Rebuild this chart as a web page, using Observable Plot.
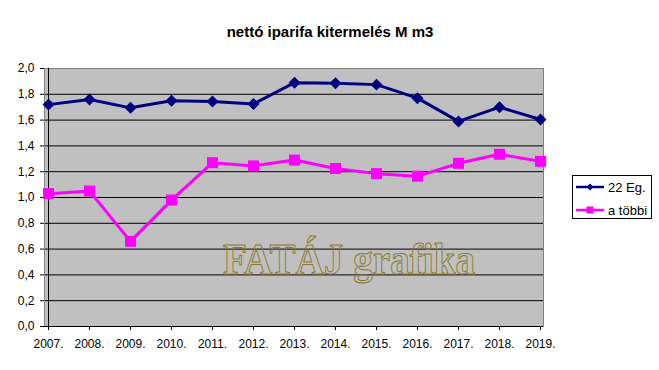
<!DOCTYPE html>
<html><head><meta charset="utf-8">
<script src="https://cdn.jsdelivr.net/npm/d3@7"></script>
<script src="https://cdn.jsdelivr.net/npm/@observablehq/plot@0.6"></script>
<style>
body{margin:0;background:#fff}
#wrap{position:relative;width:659px;height:370px;font-family:"Liberation Sans",Arial,sans-serif}
</style>
</head><body><div id="wrap"></div>
<script>
const title = "nettó iparifa kitermelés M m3";
const watermark = "FATÁJ grafika";
const years = ["2007.","2008.","2009.","2010.","2011.","2012.","2013.","2014.","2015.","2016.","2017.","2018.","2019."];
const seriesNames = ["22 Eg.","a többi"];
const seriesColors = ["#000080","#FF00FF"];
const eg22 = [1.72,1.76,1.695,1.75,1.745,1.725,1.89,1.885,1.875,1.77,1.59,1.70,1.605];
const tobbi = [1.03,1.05,0.66,0.98,1.27,1.245,1.29,1.225,1.185,1.165,1.265,1.335,1.28];
const yTicks = [0,0.2,0.4,0.6,0.8,1.0,1.2,1.4,1.6,1.8,2.0];

const data = years.flatMap((yr,i)=>[
  {year:yr, value:eg22[i], series:seriesNames[0]},
  {year:yr, value:tobbi[i], series:seriesNames[1]}
]);

const chart = Plot.plot({
  width:659, height:370,
  marginLeft:44, marginRight:116, marginTop:68, marginBottom:44,
  style:{fontFamily:'"Liberation Sans", Arial, sans-serif', fontSize:"12px", color:"#000", background:"transparent", overflow:"visible"},
  x:{type:"point", domain:years, padding:0, label:null},
  y:{domain:[0,2], label:null},
  color:{domain:seriesNames, range:seriesColors},
  marks:[
    Plot.frame({fill:"#C0C0C0"}),
    Plot.ruleY(yTicks.filter(v=>v>0 && v<2), {stroke:"#000", strokeWidth:1}),
    Plot.frame({stroke:"#808080"}),
    Plot.ruleY([0], {stroke:"#000"}),
    Plot.ruleX([years[0]], {stroke:"#000"}),
    Plot.axisY({ticks:yTicks, tickSize:4, tickPadding:6, tickFormat:d=>d.toFixed(1).replace(".",","), label:null}),
    Plot.axisX({tickSize:4, tickPadding:9, label:null}),
    Plot.text([watermark], {frameAnchor:"middle", dx:55, dy:62, fontFamily:'"Liberation Serif", "Times New Roman", serif', fontWeight:"bold", fontSize:45, fill:"none", stroke:"#8C7A2A", strokeWidth:1, className:"wm"}),
    Plot.line(data, {x:"year", y:"value", z:"series", stroke:"series", strokeWidth:3}),
    Plot.dot(data.filter(d=>d.series===seriesNames[0]), {x:"year", y:"value", symbol:"diamond2", r:5.4, fill:"series", stroke:"none"}),
    Plot.dot(data.filter(d=>d.series===seriesNames[1]), {x:"year", y:"value", symbol:"square", r:6.2, fill:"series", stroke:"none"}),
    Plot.text([title], {frameAnchor:"top", dx:36, dy:-42, fontWeight:"bold", fontSize:15})
  ]
});
const wrap = document.getElementById("wrap");
wrap.appendChild(chart);
chart.querySelectorAll(".wm text").forEach(t=>{t.setAttribute("textLength","252");t.setAttribute("lengthAdjust","spacingAndGlyphs");});

// legend
const legend = document.createElement("div");
legend.style.cssText = "position:absolute;left:572px;top:175px;width:80px;height:44px;box-sizing:border-box;border:1px solid #000;background:#fff;font-size:13px;";
seriesNames.forEach((name,i)=>{
  const row = document.createElement("div");
  row.style.cssText = `position:absolute;left:3px;top:${3+23*i}px;height:16px;display:flex;align-items:center;white-space:nowrap;`;
  const ns = "http://www.w3.org/2000/svg";
  const svg = document.createElementNS(ns,"svg");
  svg.setAttribute("width","28"); svg.setAttribute("height","12");
  const line = document.createElementNS(ns,"line");
  line.setAttribute("x1","0"); line.setAttribute("x2","28"); line.setAttribute("y1","6"); line.setAttribute("y2","6");
  line.setAttribute("stroke",seriesColors[i]); line.setAttribute("stroke-width","2.5");
  svg.appendChild(line);
  const m = document.createElementNS(ns,"path");
  m.setAttribute("d", i===0 ? "M14,2.5L17.5,6L14,9.5L10.5,6Z" : "M10.5,2.5H17.5V9.5H10.5Z");
  m.setAttribute("fill",seriesColors[i]);
  svg.appendChild(m);
  row.appendChild(svg);
  const sp = document.createElement("span");
  sp.textContent = name; sp.style.marginLeft = "4px";
  row.appendChild(sp);
  legend.appendChild(row);
});
wrap.appendChild(legend);
</script>
</body></html>
